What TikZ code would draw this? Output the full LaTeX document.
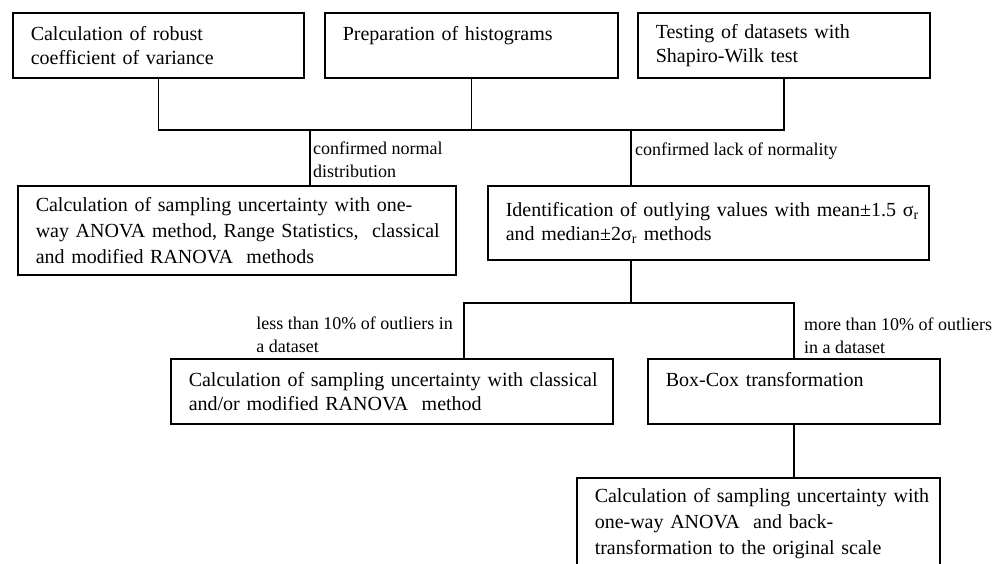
\documentclass[tikz,border=0pt]{standalone}
\usepackage{fontspec}
\setmainfont{Liberation Serif}
\usetikzlibrary{positioning}

\begin{document}
\begin{tikzpicture}[x=1pt,y=-1pt,
  box/.style={draw,line width=1.5pt,anchor=north west,align=left,inner xsep=0pt,inner ysep=0pt,
    execute at begin node={\leftskip=18pt},font=\fontsize{20}{24}\selectfont},
  note/.style={align=left,inner sep=0pt,font=\fontsize{18}{23}\selectfont},
  link/.style={line width=1.5pt}]
  \path[use as bounding box,clip] (0,0) rectangle (1003,563);
  % Define boxes
  \node[box,text width=291pt,minimum height=65pt] (robust) at (12,12) {Calculation of robust\\coefficient of variance};
  \node[box,text width=293pt,minimum height=65pt] (hist) at (324,12) {Preparation of histograms\\\mbox{}};
  \node[box,text width=292pt,minimum height=65pt] (shapiro) at (637,12) {Testing of datasets with\\Shapiro-Wilk test};
  \node[box,text width=438pt,minimum height=89pt,font=\fontsize{20}{26}\selectfont] (anova) at (17,185)
    {Calculation of sampling uncertainty with one-\\way ANOVA method, Range Statistics,~ classical\\and modified RANOVA~ methods};
  \node[box,text width=441pt,minimum height=74pt] (outliers) at (487,185)
    {Identification of outlying values with mean±1.5 σ\textsubscript{r}\\and median±2σ\textsubscript{r} methods};
  \node[box,text width=442pt,minimum height=65pt] (ranova) at (170,358)
    {Calculation of sampling uncertainty with classical\\and/or modified RANOVA~ method};
  \node[box,text width=292pt,minimum height=65pt] (boxcox) at (647,358) {Box-Cox transformation\\\mbox{}};
  \node[box,text width=363pt,minimum height=92pt,font=\fontsize{20}{26}\selectfont] (backtr) at (576,477)
    {Calculation of sampling uncertainty with\\one-way ANOVA~ and back-\\transformation to the original scale};
  % Junctions
  \coordinate (split) at (0,130);
  \coordinate (normal) at (310,130);
  \coordinate (lack) at (631,130);
  \coordinate (fork) at (0,303);
  \coordinate (less) at (464,303);
  \coordinate (more) at (794,303);
  % Connectors
  \draw[link] (robust.south) |- (split -| shapiro.south) -- (shapiro.south);
  \draw[link] (hist.south) -- (hist.south |- split);
  \draw[link] (normal) -- (normal |- anova.north);
  \draw[link] (lack) -- (lack |- outliers.north);
  \draw[link] (lack |- outliers.south) -- (lack |- fork);
  \draw[link] (less |- ranova.north) |- (more) -- (more |- boxcox.north);
  \draw[link] (boxcox.south) -- (boxcox.south |- backtr.north);
  % Labels
  \node[note,below right=12pt and 3pt of normal] (normaltxt) {confirmed normal\\distribution};
  \node[note,below right=13pt and 4pt of lack] (lacktxt) {confirmed lack of normality};
  \node[note,below left=14pt and 11pt of less] (lesstxt) {less than 10\% of outliers in\\a dataset};
  \node[note,below right=15pt and 10pt of more] (moretxt) {more than 10\% of outliers\\in a dataset};
\end{tikzpicture}
\end{document}
